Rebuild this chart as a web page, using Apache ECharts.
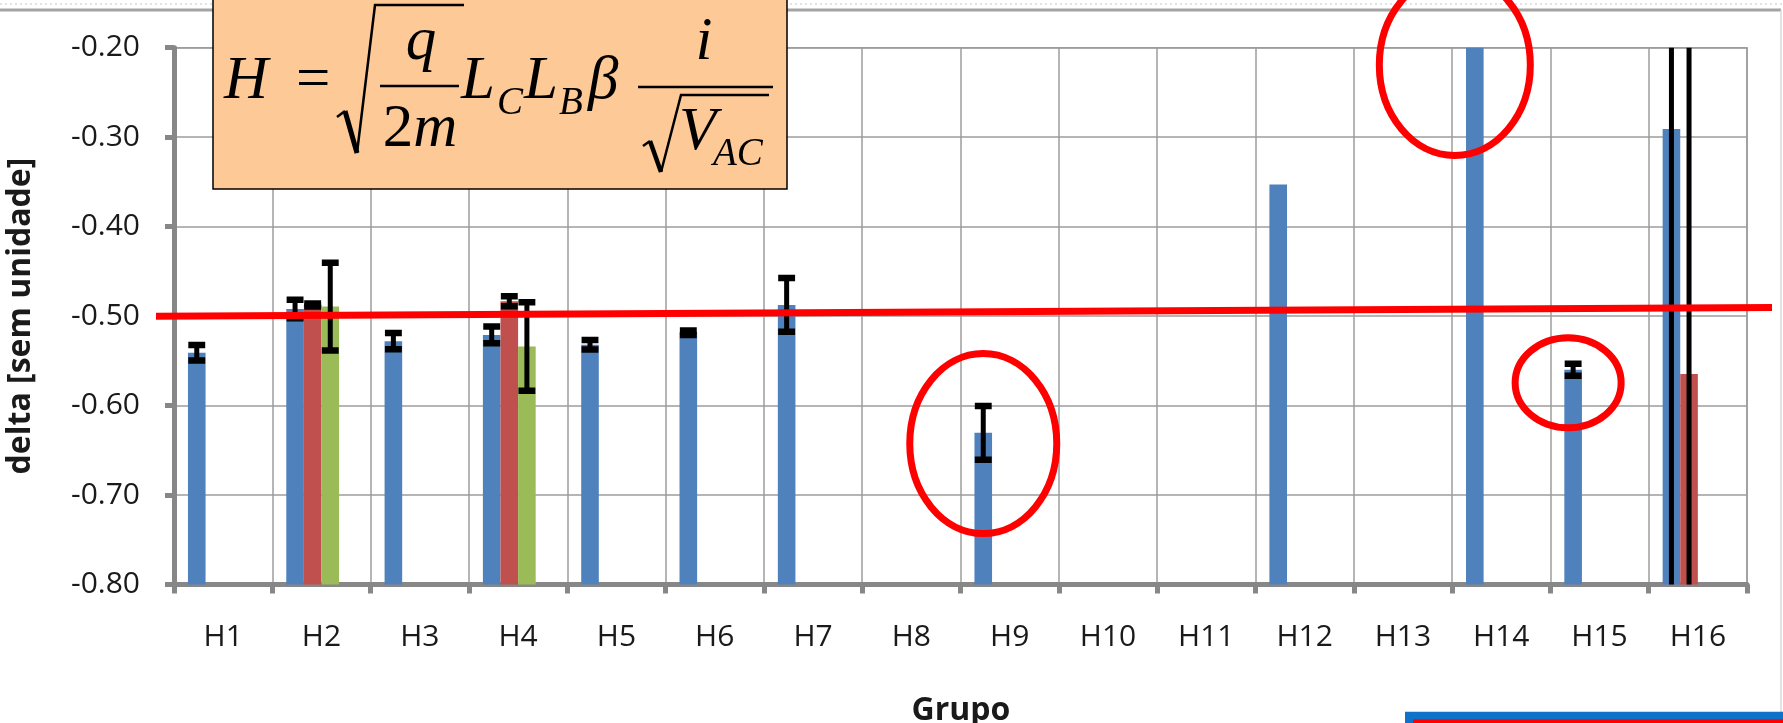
<!DOCTYPE html>
<html>
<head>
<meta charset="utf-8">
<script src="https://cdn.jsdelivr.net/npm/echarts@6/dist/echarts.min.js"></script>
<style>
html,body{margin:0;padding:0;background:#fff;}
#c{width:1783px;height:723px;}
</style>
</head>
<body>
<div id="c"></div>
<script>
// ---- data ----
const categories = ['H1','H2','H3','H4','H5','H6','H7','H8','H9','H10','H11','H12','H13','H14','H15','H16'];
const blueVals  = [-0.541, -0.492, -0.528, -0.521, -0.532, -0.5186, -0.4875, null, -0.6305, null, null, -0.353, null, -0.20, -0.560, -0.291];
const blueErr   = [0.0087, 0.0104, 0.009, 0.0093, 0.0054, 0.0025, 0.030, null, 0.030, null, null, null, null, null, 0.0067, 0.60];
const redVals   = [null, -0.4875, null, -0.4835, null, null, null, null, null, null, null, null, null, null, null, -0.5646];
const redErr    = [null, 0.0017, null, 0.0056, null, null, null, null, null, null, null, null, null, null, null, 0.45];
const greenVals = [null, -0.4894, null, -0.534, null, null, null, null, null, null, null, null, null, null, null, null];
const greenErr  = [null, 0.049, null, 0.0495, null, null, null, null, null, null, null, null, null, null, null, null];
const fourthVals = [null, null, null, null, null, null, null, null, null, null, null, null, null, null, null, null];
const yMin = -0.8, yMax = -0.2, yStep = 0.1;
const refLine = [-0.5003, -0.4903]; // hand-drawn red reference line (left, right)

const BAR_FRAC = 0.179;
const COLORS = ['#4F81BD', '#C0504D', '#9BBB59', '#8064A2'];
const LABEL_FONT = '"Open Sans", "Liberation Sans", sans-serif';

const chart = echarts.init(document.getElementById('c'), null, {renderer: 'canvas'});

function errSeries(k, vals, errs) {
  const data = [];
  vals.forEach((v, i) => { if (v != null && errs[i] != null) data.push([i, v, errs[i]]); });
  return {
    type: 'custom',
    name: 'err' + k,
    clip: true,
    z: 5,
    encode: {x: 0, y: 1},
    data: data,
    renderItem: function (params, api) {
      const i = api.value(0), v = api.value(1), e = api.value(2);
      const band = api.size([1, 0])[0];
      const bw = band * BAR_FRAC;
      const off = (k - 1.5) * bw;
      const top = api.coord([i, v + e]);
      const bot = api.coord([i, v - e]);
      const x = top[0] + off;
      const half = bw * 0.48;
      const st = {stroke: '#000', lineWidth: 5};
      const cs = {stroke: '#000', lineWidth: 6.5};
      return {
        type: 'group',
        children: [
          {type: 'line', shape: {x1: x, y1: top[1], x2: x, y2: bot[1]}, style: st},
          {type: 'line', shape: {x1: x - half, y1: top[1], x2: x + half, y2: top[1]}, style: cs},
          {type: 'line', shape: {x1: x - half, y1: bot[1], x2: x + half, y2: bot[1]}, style: cs}
        ]
      };
    }
  };
}

function barSeries(name, vals, color) {
  return {
    type: 'bar', name: name, data: vals,
    barWidth: (BAR_FRAC * 100) + '%', barGap: '0%',
    itemStyle: {color: color}, z: 2, clip: true
  };
}

const option = {
  animation: false,
  backgroundColor: '#fff',
  grid: {left: 174, right: 36, top: 47.7, bottom: 138.5, containLabel: false,
         show: true, borderColor: '#9c9c9c', borderWidth: 1.5},
  xAxis: {
    type: 'category', data: categories,
    axisLine: {lineStyle: {color: '#878787', width: 5}},
    axisTick: {show: true, length: 9, lineStyle: {color: '#878787', width: 5}},
    axisLabel: {color: '#1a1a1a', fontFamily: LABEL_FONT, fontSize: 30, margin: 38},
    splitLine: {show: true, lineStyle: {color: '#9c9c9c', width: 1.5}}
  },
  yAxis: {
    type: 'value', min: yMin, max: yMax, interval: yStep, startValue: yMin,
    axisLine: {show: true, lineStyle: {color: '#878787', width: 5}},
    axisTick: {show: true, length: 9, lineStyle: {color: '#878787', width: 5}},
    axisLabel: {color: '#1a1a1a', fontFamily: LABEL_FONT, fontSize: 30, margin: 34,
                formatter: v => v.toFixed(2)},
    splitLine: {show: true, lineStyle: {color: '#9c9c9c', width: 1.5}}
  },
  series: [
    barSeries('Série 1', blueVals, COLORS[0]),
    barSeries('Série 2', redVals, COLORS[1]),
    barSeries('Série 3', greenVals, COLORS[2]),
    barSeries('Série 4', fourthVals, COLORS[3]),
    errSeries(0, blueVals, blueErr),
    errSeries(1, redVals, redErr),
    errSeries(2, greenVals, greenErr)
  ]
};
chart.setOption(option);

// ---- annotations anchored to the chart's own scales ----
const px = (i, v) => chart.convertToPixel({gridIndex: 0}, [i, v]);
const band = (px(1, yMin)[0] - px(0, yMin)[0]);
const blueOff = -1.5 * band * BAR_FRAC;
const e1 = px(8, -0.6425), e2 = px(14, -0.5746), e3 = px(13, -0.2193);
const rl1 = px(0, refLine[0]), rl2 = px(0, refLine[1]);

const serif = '"Liberation Serif", "DejaVu Serif", serif';
function t(text, x, base, size, italic, align) {
  return {type: 'text', z: 102, x: x, y: base - 0.33 * size,
          style: {text: text, font: (italic ? 'italic ' : '') + size + 'px ' + serif, fill: '#000',
                  textAlign: align || 'left', textVerticalAlign: 'middle',
                  align: align || 'left', verticalAlign: 'middle'}};
}
function seg(pts, w) {
  return {type: 'polyline', z: 102, shape: {points: pts}, style: {stroke: '#000', lineWidth: w, fill: null, lineJoin: 'miter'}};
}
const FS = 61, SS = 39;

const graphics = [
  // chart frame remnants
  {type: 'line', z: 0, shape: {x1: 0, y1: 4, x2: 1783, y2: 4}, style: {stroke: '#e2e2e2', lineWidth: 2, lineDash: [2, 3]}},
  {type: 'line', z: 1, shape: {x1: 0, y1: 10, x2: 1781, y2: 10}, style: {stroke: '#a3a3a3', lineWidth: 3}},
  {type: 'line', z: 1, shape: {x1: 1781, y1: 10, x2: 1781, y2: 723}, style: {stroke: '#d9d9d9', lineWidth: 1.5}},
  // axis titles
  {type: 'text', z: 50, x: 21, y: 316, rotation: Math.PI / 2,
   style: {text: 'delta [sem unidade]', font: 'bold 32px ' + LABEL_FONT, fill: '#1a1a1a',
           textAlign: 'center', textVerticalAlign: 'middle', align: 'center', verticalAlign: 'middle'}},
  {type: 'text', z: 50, x: 961, y: 711,
   style: {text: 'Grupo', font: 'bold 32px ' + LABEL_FONT, fill: '#1a1a1a',
           textAlign: 'center', textVerticalAlign: 'middle', align: 'center', verticalAlign: 'middle'}},
  // red hand-drawn reference line
  {type: 'line', z: 90, shape: {x1: 156, y1: rl1[1], x2: 1772, y2: rl2[1]}, style: {stroke: '#FF0000', lineWidth: 7}},
  // red ellipses
  {type: 'ellipse', z: 91, shape: {cx: e1[0] + blueOff, cy: e1[1], rx: 73.5, ry: 90}, style: {stroke: '#FF0000', lineWidth: 7, fill: null}},
  {type: 'ellipse', z: 91, shape: {cx: e2[0] + blueOff - 5, cy: e2[1], rx: 53, ry: 45}, style: {stroke: '#FF0000', lineWidth: 7, fill: null}},
  {type: 'ellipse', z: 91, shape: {cx: e3[0] + blueOff - 20, cy: e3[1], rx: 75.5, ry: 90.5}, style: {stroke: '#FF0000', lineWidth: 7, fill: null}},
  // formula box
  {type: 'rect', z: 100, shape: {x: 213, y: -5, width: 574, height: 194}, style: {fill: '#FDC996', stroke: '#000', lineWidth: 1.5}},
  t('H', 224, 101.7, FS, true),
  t('=', 296, 101.7, FS, false),
  seg([[337, 117], [345, 111]], 2.5),
  seg([[345, 111], [357, 153]], 5),
  seg([[357, 153], [375, 5], [464, 5]], 2.5),
  t('q', 421, 63, FS, true, 'center'),
  seg([[380, 86], [459, 86]], 2.5),
  {type: 'text', z: 102, x: 420, y: 150 - 0.33 * FS,
   style: {text: '{a|2}{b|m}', fill: '#000', textAlign: 'center', textVerticalAlign: 'middle', align: 'center', verticalAlign: 'middle',
           rich: {a: {font: FS + 'px ' + serif}, b: {font: 'italic ' + FS + 'px ' + serif}}}},
  t('L', 461, 101.7, FS, true),
  t('C', 497, 117, SS, true),
  t('L', 524, 101.7, FS, true),
  t('B', 559, 117, SS, true),
  t('β', 588, 101.7, FS, true),
  seg([[638, 87], [773, 87]], 2.5),
  t('i', 704, 63, FS, true, 'center'),
  seg([[643, 146], [650, 141]], 2.5),
  seg([[650, 141], [661, 172]], 4.5),
  seg([[661, 172], [681, 95], [769, 95]], 2.5),
  t('V', 679, 153, FS, true),
  t('AC', 713, 168, SS, true),
  // shape remnant at the bottom right
  {type: 'rect', z: 100, shape: {x: 1405, y: 711.7, width: 380, height: 14}, style: {fill: '#1071C9'}},
  {type: 'rect', z: 101, shape: {x: 1413, y: 719.3, width: 372, height: 6}, style: {fill: '#FF0000'}}
];
chart.setOption({graphic: graphics});
</script>
</body>
</html>
